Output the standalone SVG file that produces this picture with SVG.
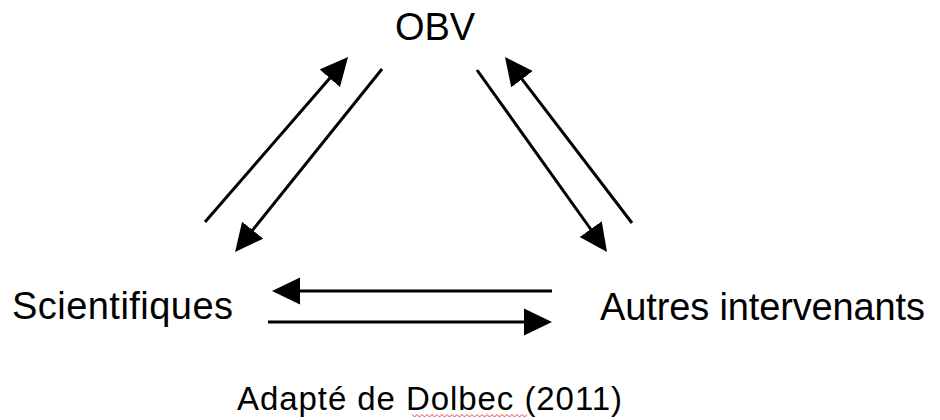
<svg xmlns="http://www.w3.org/2000/svg" width="940" height="420" viewBox="0 0 940 420">
  <style>
    .label { font-family: "Liberation Sans", Arial, Helvetica, sans-serif; fill: #000; }
    .big { font-size: 38px; }
    .note { font-size: 33px; }
    .flow { stroke: #000; stroke-width: 3; fill: none; }
  </style>
  <defs>
    <marker id="head" markerUnits="userSpaceOnUse" viewBox="0 -14 28 28" markerWidth="28" markerHeight="28" refX="1" refY="0" orient="auto">
      <path d="M0,-13.5 L28,0 L0,13.5 Z" fill="#000"/>
    </marker>
  </defs>

  <rect width="940" height="420" fill="#fff"/>

  <g id="node-obv">
    <text class="label big" x="435" y="40" text-anchor="middle">OBV</text>
  </g>
  <g id="node-scientifiques">
    <text class="label big" x="12" y="319" textLength="221" lengthAdjust="spacing">Scientifiques</text>
  </g>
  <g id="node-autres">
    <text class="label big" x="600" y="320" textLength="325" lengthAdjust="spacing">Autres intervenants</text>
  </g>
  <g id="caption">
    <text class="label note" x="237" y="410" textLength="385" lengthAdjust="spacing">Adapté de Dolbec (2011)</text>
    <!-- spell-check squiggle under "Dolbec" -->
    <path d="M412,414.5 l2.5,2.5 l2.5,-2.5 l2.5,2.5 l2.5,-2.5 l2.5,2.5 l2.5,-2.5 l2.5,2.5 l2.5,-2.5 l2.5,2.5 l2.5,-2.5 l2.5,2.5 l2.5,-2.5 l2.5,2.5 l2.5,-2.5 l2.5,2.5 l2.5,-2.5 l2.5,2.5 l2.5,-2.5 l2.5,2.5 l2.5,-2.5 l2.5,2.5 l2.5,-2.5 l2.5,2.5 l2.5,-2.5 l2.5,2.5 l2.5,-2.5 l2.5,2.5 l2.5,-2.5 l2.5,2.5 l2.5,-2.5 l2.5,2.5 l2.5,-2.5 l2.5,2.5 l2.5,-2.5 l2.5,2.5 l2.5,-2.5 l2.5,2.5 l2.5,-2.5 l2.5,2.5 l2.5,-2.5 l2.5,2.5 l2.5,-2.5 l2.5,2.5 l2.5,-2.5 l2.5,2.5 l2.5,-2.5" fill="none" stroke="#e8443a" stroke-width="1"/>
  </g>

  <g id="connectors">
    <!-- Scientifiques <-> OBV -->
    <line class="flow" x1="205" y1="222" x2="330.4" y2="77.5" marker-end="url(#head)"/>
    <line class="flow" x1="382" y1="69" x2="252" y2="230.9" marker-end="url(#head)"/>
    <!-- OBV <-> Autres intervenants -->
    <line class="flow" x1="477" y1="70" x2="591.3" y2="230" marker-end="url(#head)"/>
    <line class="flow" x1="632" y1="223" x2="521.4" y2="78.4" marker-end="url(#head)"/>
    <!-- Autres intervenants <-> Scientifiques -->
    <line class="flow" x1="552" y1="291" x2="299" y2="291" marker-end="url(#head)"/>
    <line class="flow" x1="268" y1="322" x2="525" y2="322" marker-end="url(#head)"/>
  </g>
</svg>
